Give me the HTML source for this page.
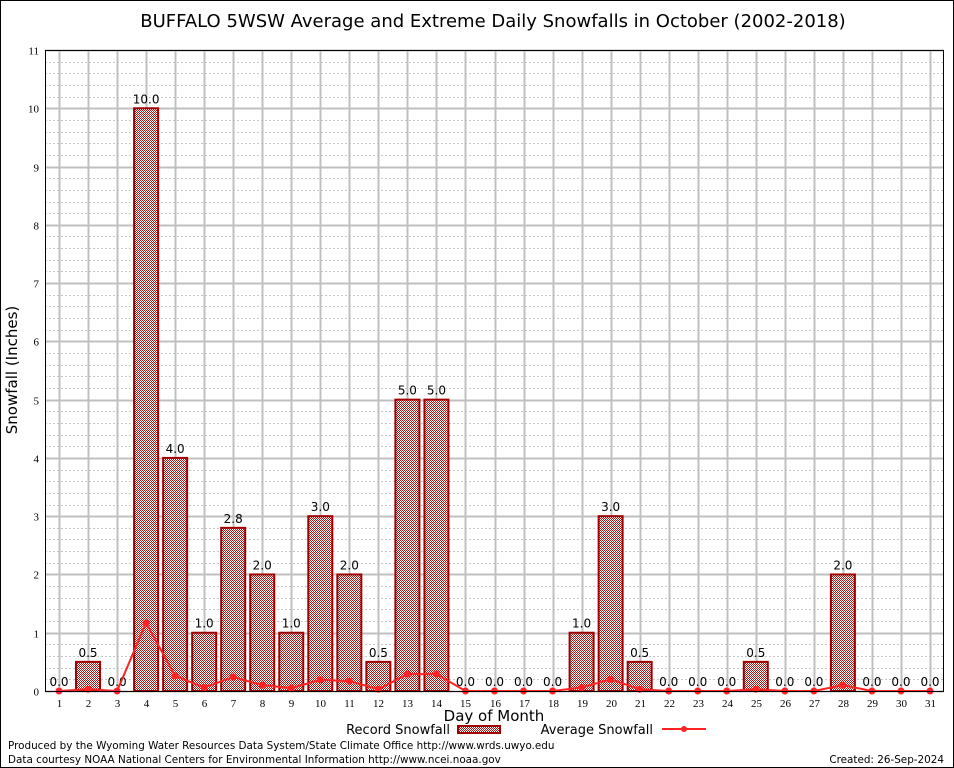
<!DOCTYPE html>
<html><head><meta charset="utf-8"><style>
html,body{margin:0;padding:0;background:#fff}
svg{display:block;font-family:"DejaVu Sans","Liberation Sans",sans-serif}
</style></head><body>
<svg id="c" width="954" height="768" xmlns="http://www.w3.org/2000/svg">
<defs>
<pattern id="hatch" width="2" height="2" patternUnits="userSpaceOnUse">
<rect width="2" height="2" fill="#fff"/><rect width="1" height="1" fill="#b01818"/><rect x="1" y="1" width="1" height="1" fill="#b01818"/>
</pattern>
</defs>
<rect x="0.5" y="0.5" width="953" height="767" fill="#fff" stroke="#000"/>
<text x="493" y="27" font-size="18" text-anchor="middle">BUFFALO 5WSW Average and Extreme Daily Snowfalls in October (2002-2018)</text>
<g id="grid"></g>
<g id="bars"></g>
<g id="line"></g>
<g id="axes"></g>
<text x="17" y="370" font-size="15" text-anchor="middle" transform="rotate(-90 17 370)">Snowfall (Inches)</text>
<text x="494" y="721" font-size="15" text-anchor="middle">Day of Month</text>
<g>
<text x="450" y="734" font-size="13" text-anchor="end">Record Snowfall</text>
<rect x="458" y="726" width="42" height="7" fill="url(#hatch)" stroke="#a00000" stroke-width="2"/>
<text x="653" y="734" font-size="13" text-anchor="end">Average Snowfall</text>
<line x1="662" y1="729" x2="706" y2="729" stroke="#f22" stroke-width="2"/>
<circle cx="684" cy="729" r="3" fill="#f22"/>
</g>
<text x="8" y="749" font-size="10.4">Produced by the Wyoming Water Resources Data System/State Climate Office http://www.wrds.uwyo.edu</text>
<text x="8" y="763" font-size="10.4">Data courtesy NOAA National Centers for Environmental Information http://www.ncei.noaa.gov</text>
<text x="944" y="763" font-size="10.4" text-anchor="end">Created: 26-Sep-2024</text>
</svg>
<script>
const days = [1,2,3,4,5,6,7,8,9,10,11,12,13,14,15,16,17,18,19,20,21,22,23,24,25,26,27,28,29,30,31];
const recordSnow = [0,0.5,0,10,4,1,2.8,2,1,3,2,0.5,5,5,0,0,0,0,1,3,0.5,0,0,0,0.5,0,0,2,0,0,0];
const avgSnow = [0,0.03,0,1.17,0.26,0.06,0.24,0.1,0.05,0.19,0.17,0.03,0.29,0.29,0,0,0,0,0.06,0.2,0.03,0,0,0,0.03,0,0,0.1,0,0,0];
const yTicks = [0,1,2,3,4,5,6,7,8,9,10,11];
const NS='http://www.w3.org/2000/svg';
const L=45,R=944,T=50,B=691,yMax=11;
const x=d=>59+(d-1)*(930-59)/30;
const y=v=>B-(B-T)*v/yMax;
function mk(tag,attrs,parent){const e=document.createElementNS(NS,tag);for(const k in attrs)e.setAttribute(k,attrs[k]);parent.appendChild(e);return e;}
const grid=document.getElementById('grid'),bars=document.getElementById('bars'),line=document.getElementById('line'),axes=document.getElementById('axes');
for(let v=0;v<=yMax;v+=0.2){const yy=Math.round(y(v))+0.5;
 const g=mk('line',{x1:L,x2:R,y1:yy,y2:yy,stroke:'#c8c8c8','stroke-width':1,'stroke-dasharray':'2,2'},grid);
 
 }
yTicks.forEach(t=>{const yy=Math.round(y(t))+0.5;
 const g=mk('line',{x1:L,x2:R,y1:yy,y2:yy,stroke:'#c0c0c0','stroke-width':2},grid);
 
 
 const tl=mk('text',{x:L-6,y:yy+4,'font-size':11,'text-anchor':'end','font-family':'Liberation Serif'},axes);tl.textContent=t;
 
 });
days.forEach(d=>{const xx=Math.round(x(d))+0.5;
 const g=mk('line',{x1:xx,x2:xx,y1:T,y2:B,stroke:'#c0c0c0','stroke-width':2},grid);
 
 
 const tl=mk('text',{x:xx,y:B+16,'font-size':11,'text-anchor':'middle','font-family':'Liberation Serif'},axes);tl.textContent=d;
 
 });
const bw=24;
days.forEach((d,i)=>{const v=recordSnow[i];
 if(v>0){const r=mk('rect',{x:x(d)-bw/2,y:y(v),width:bw,height:B-y(v),fill:'url(#hatch)',stroke:'#a00000','stroke-width':2},bars);
 
 }
 const t=mk('text',{x:x(d),y:y(v)-5,'font-size':12,'text-anchor':'middle'},bars);t.textContent=v.toFixed(1);
 
 });
const pts=days.map((d,i)=>x(d)+','+y(avgSnow[i])).join(' ');
const pl=mk('polyline',{points:pts,fill:'none',stroke:'#f22','stroke-width':2},line);


days.forEach((d,i)=>{const c=mk('circle',{cx:x(d),cy:y(avgSnow[i]),r:3.5,fill:'#f22'},line);
 
 });
const fr=mk('rect',{x:L+0.5,y:T+0.5,width:R-L-1,height:B-T,fill:'none',stroke:'#000','stroke-width':1},axes);


</script>
</body></html>
